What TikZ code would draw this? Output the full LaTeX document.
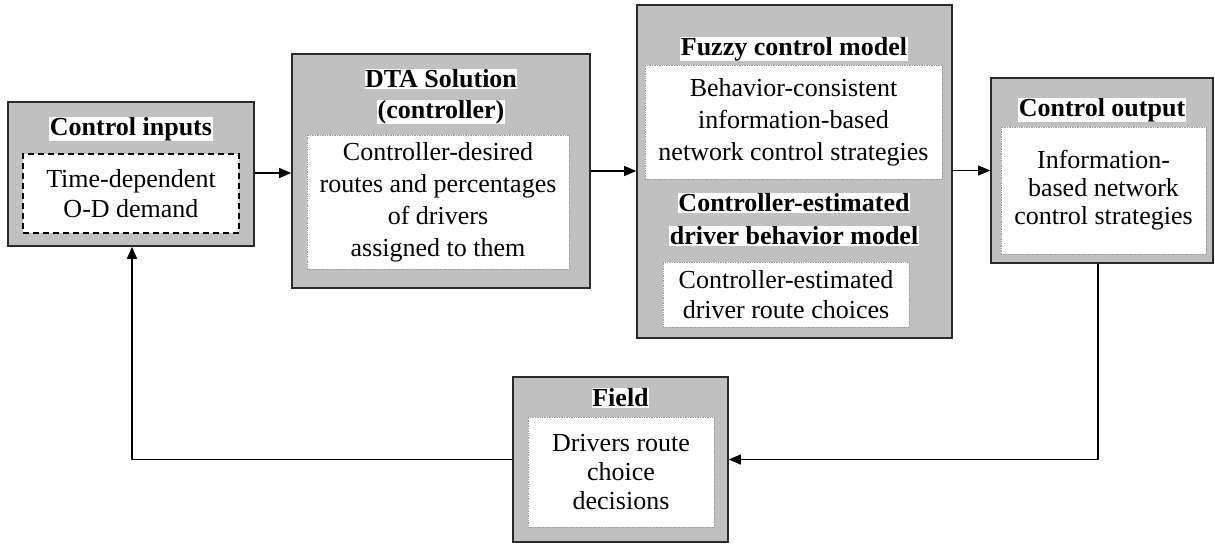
\documentclass[tikz,border=0pt]{standalone}
\usepackage{fontspec}
\setmainfont{Liberation Serif}[Ligatures=TeX]
\newfontfamily\boxserif{Liberation Serif}
\usetikzlibrary{arrows.meta}
\definecolor{panelgray}{HTML}{C0C0C0}
\definecolor{edgegray}{HTML}{2A2A2A}
\definecolor{dotgray}{HTML}{9A9A9A}
\tikzset{
  panel/.style={draw=edgegray, line width=1.6pt, fill=panelgray, minimum width=#1, inner sep=0pt},
  inbox/.style={draw=dotgray, densely dotted, line width=0.7pt, fill=white, inner sep=0pt, align=center,
    font=\boxserif\fontsize{26}{30}\selectfont},
  title/.style={fill=white, inner sep=0.5pt, font=\boxserif\fontsize{26}{30}\selectfont\bfseries},
  flow/.style={draw=black, line width=1.4pt, -{Triangle[length=12pt,width=10pt]}},
}
\begin{document}
\begin{tikzpicture}[x=1pt, y=-1pt]
\useasboundingbox (0,0) rectangle (1215,544);

% Control inputs
\node[panel=246pt, minimum height=144pt] (ci) at (131,174) {};
\node[title] (cit) at (131,129) {Control inputs};
\node[inbox, draw=black, solid, dash pattern=on 6pt off 4pt, line width=1.2pt, minimum width=216pt, minimum height=79pt] (ciin) at (131,193.5)
  {Time-dependent\\O-D demand};

% DTA solution
\node[panel=298pt, minimum height=234pt] (dta) at (441,171) {};
\node[title] (dtat1) at (441,79) {DTA Solution};
\node[title] (dtat2) at (441,112) {(controller)};
\node[inbox, minimum width=262pt, minimum height=134pt, font=\boxserif\fontsize{26}{32}\selectfont] (dtain) at (438,202)
  {Controller-desired\\routes and percentages\\of drivers\\assigned to them};

% Fuzzy control model
\node[panel=315pt, minimum height=333pt] (fz) at (794.5,171.5) {};
\node[title] (fzt) at (794,49) {Fuzzy control model};
\node[inbox, minimum width=297pt, minimum height=114pt, font=\boxserif\fontsize{26}{32}\selectfont] (fzin) at (793.5,122)
  {Behavior-consistent\\information-based\\network control strategies};
\node[title] (fzt2) at (794,203) {Controller-estimated};
\node[title] (fzt3) at (794,236) {driver behavior model};
\node[inbox, minimum width=246pt, minimum height=65pt] (fzin2) at (786,294.5)
  {Controller-estimated\\driver route choices};

% Control output
\node[panel=222pt, minimum height=185pt] (co) at (1102,170.5) {};
\node[title] (cot) at (1102,110) {Control output};
\node[inbox, minimum width=205pt, minimum height=127pt, font=\boxserif\fontsize{26}{28}\selectfont] (coin) at (1103.5,190.5)
  {Information-\\based network\\control strategies};

% Field
\node[panel=215pt, minimum height=165pt] (fd) at (620.5,459.5) {};
\node[title] (fdt) at (620.5,398) {Field};
\node[inbox, minimum width=186pt, minimum height=110pt, font=\boxserif\fontsize{26}{29}\selectfont] (fdin) at (621,472)
  {Drivers route\\choice\\decisions};

% Connectors
\draw[flow] ([yshift=1pt]ci.east) -- ([yshift=1pt]ci.east -| dta.west);
\draw[flow] (dta.east) -- (dta.east -| fz.west);
\draw[flow] ([yshift=1pt]fz.east) -- ([yshift=1pt]fz.east -| co.west);
\draw[flow] ([xshift=-4pt]co.south) |- (fd.east);
\draw[flow] (fd.west) -| ([xshift=1pt]ci.south);
\end{tikzpicture}
\end{document}
